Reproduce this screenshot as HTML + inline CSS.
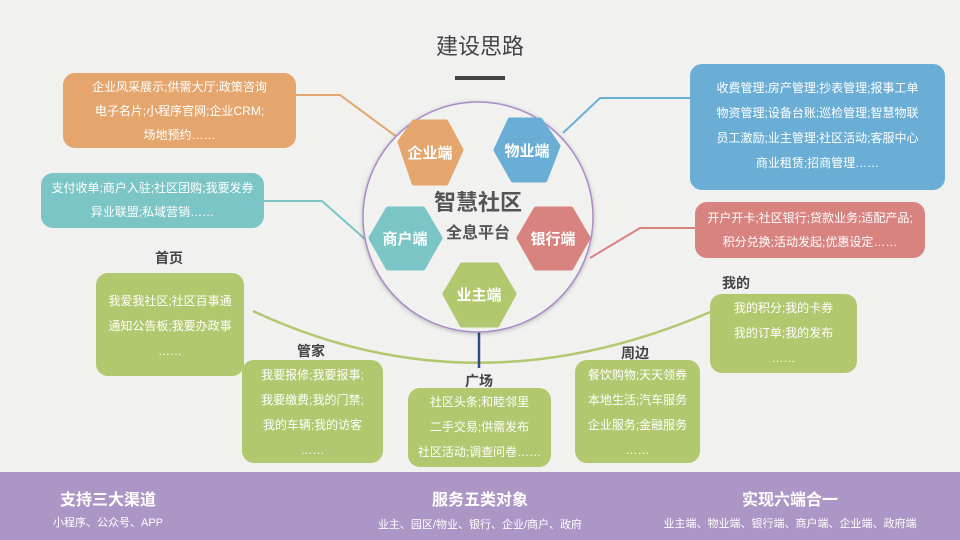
<!DOCTYPE html>
<html><head><meta charset="utf-8"><style>
body{margin:0;width:960px;height:540px;overflow:hidden;background:#f1f1f0;font-family:"Liberation Sans","Noto Sans CJK SC",sans-serif;position:relative}
.b{position:absolute;color:#fff;font-size:12px;line-height:24px;text-align:center;border-radius:12px;box-sizing:border-box}
.g{background:#b1c86f}
.l{position:absolute;font-size:14px;font-weight:bold;color:#444}
</style></head><body>
<svg width="960" height="540" style="position:absolute;left:0;top:0">
<defs><filter id="sh" x="-20%" y="-20%" width="140%" height="140%"><feDropShadow dx="0" dy="1" stdDeviation="2" flood-opacity="0.25"/></filter></defs>
<path d="M296,95 L340,95 L397,137" stroke="#e4a66d" stroke-width="2" fill="none"/>
<path d="M690,98 L600,98 L563,133" stroke="#6aaed6" stroke-width="2" fill="none"/>
<path d="M264,201 L322,201 L366,240" stroke="#7cc5c6" stroke-width="2" fill="none"/>
<path d="M695,228 L640,228 L590,258" stroke="#d8837f" stroke-width="2" fill="none"/>
<path d="M253,311 Q475,415 715,310" stroke="#b1c86f" stroke-width="2.5" fill="none"/>
<line x1="479" y1="330" x2="479" y2="368" stroke="#2c4f8a" stroke-width="2.5"/>
<circle cx="478" cy="217" r="115" fill="#f1f1f0" stroke="#a98bc8" stroke-width="1.5" filter="url(#sh)"/>
<g font-family="Liberation Sans,Noto Sans CJK SC,sans-serif" font-weight="bold" fill="#fff" font-size="15" text-anchor="middle" stroke-linejoin="round" stroke-width="5">
<polygon points="400,142 414,122 446,122 461,150 446,183 414,183" fill="#e4a66d" stroke="#e4a66d"/><text x="430" y="158" stroke="none">企业端</text>
<polygon points="496,150 510,120 540,120 558,146 545,180 513,180" fill="#6aaed6" stroke="#6aaed6"/><text x="527" y="156" stroke="none">物业端</text>
<polygon points="371,238 388,209 423,209 440,238 423,268 388,268" fill="#7cc5c6" stroke="#7cc5c6"/><text x="405" y="244" stroke="none">商户端</text>
<polygon points="519,238 536,209 571,209 588,238 571,268 536,268" fill="#d8837f" stroke="#d8837f"/><text x="553" y="244" stroke="none">银行端</text>
<polygon points="445,294 462,265 497,265 514,294 497,325 462,325" fill="#b1c86f" stroke="#b1c86f"/><text x="479" y="300" stroke="none">业主端</text>
</g>
<g font-family="Liberation Sans,Noto Sans CJK SC,sans-serif" font-weight="bold" fill="#555" text-anchor="middle">
<text x="478" y="210" font-size="22">智慧社区</text>
<text x="478" y="238" font-size="16">全息平台</text>
</g>
<rect x="455" y="76" width="50" height="4" fill="#444"/>
</svg>
<div style="position:absolute;left:0;width:960px;top:29px;text-align:center;font-size:22px;color:#444">建设思路</div>
<div class="b" style="left:63px;top:73px;width:233px;height:75px;background:#e4a66d;padding-top:2px">企业风采展示;供需大厅;政策咨询<br>电子名片;小程序官网;企业CRM;<br>场地预约……</div>
<div class="b" style="left:690px;top:64px;width:255px;height:126px;background:#6aaed6;padding-top:12px;line-height:25px">收费管理;房产管理;抄表管理;报事工单<br>物资管理;设备台账;巡检管理;智慧物联<br>员工激励;业主管理;社区活动;客服中心<br>商业租赁;招商管理……</div>
<div class="b" style="left:41px;top:173px;width:223px;height:55px;background:#7cc5c6;padding-top:3px">支付收单;商户入驻;社区团购;我要发券<br>异业联盟;私域营销……</div>
<div class="b" style="left:695px;top:202px;width:230px;height:56px;background:#d8837f;padding-top:4px">开户开卡;社区银行;贷款业务;适配产品;<br>积分兑换;活动发起;优惠设定……</div>
<div class="l" style="left:155px;top:248px">首页</div>
<div class="b g" style="left:96px;top:273px;width:148px;height:103px;padding-top:16px;line-height:25px">我爱我社区;社区百事通<br>通知公告板;我要办政事<br>……</div>
<div class="l" style="left:297px;top:341px">管家</div>
<div class="b g" style="left:242px;top:360px;width:141px;height:103px;padding-top:3px;line-height:25px">我要报修;我要报事;<br>我要缴费;我的门禁;<br>我的车辆;我的访客<br>……</div>
<div class="l" style="left:465px;top:371px">广场</div>
<div class="b g" style="left:408px;top:388px;width:143px;height:79px;padding-top:2px;line-height:25px">社区头条;和睦邻里<br>二手交易;供需发布<br>社区活动;调查问卷……</div>
<div class="l" style="left:621px;top:343px">周边</div>
<div class="b g" style="left:575px;top:360px;width:125px;height:103px;padding-top:3px;line-height:25px">餐饮购物;天天领券<br>本地生活;汽车服务<br>企业服务;金融服务<br>……</div>
<div class="l" style="left:722px;top:273px">我的</div>
<div class="b g" style="left:710px;top:294px;width:147px;height:79px;padding-top:2px;line-height:25px">我的积分;我的卡券<br>我的订单;我的发布<br>……</div>
<div style="position:absolute;left:0;top:472px;width:960px;height:68px;background:#ac96c6;color:#fff">
<div style="position:absolute;left:0;width:216px;top:14px;text-align:center;font-size:16px;font-weight:bold">支持三大渠道</div>
<div style="position:absolute;left:0;width:216px;top:42px;text-align:center;font-size:11px">小程序、公众号、APP</div>
<div style="position:absolute;left:380px;width:200px;top:14px;text-align:center;font-size:16px;font-weight:bold">服务五类对象</div>
<div style="position:absolute;left:330px;width:300px;top:44px;text-align:center;font-size:11px">业主、园区/物业、银行、企业/商户、政府</div>
<div style="position:absolute;left:640px;width:300px;top:14px;text-align:center;font-size:16px;font-weight:bold">实现六端合一</div>
<div style="position:absolute;left:630px;width:320px;top:43px;text-align:center;font-size:11px">业主端、物业端、银行端、商户端、企业端、政府端</div>
</div>
</body></html>
